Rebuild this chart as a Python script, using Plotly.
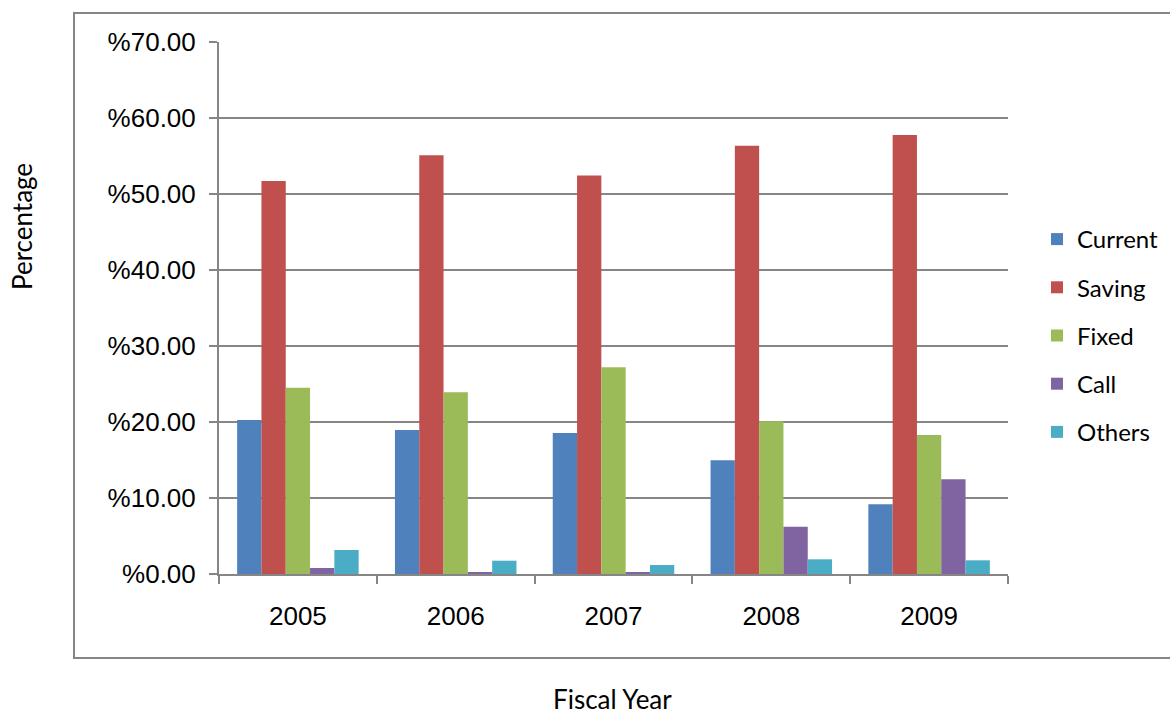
import plotly.graph_objects as go

years = ["2005", "2006", "2007", "2008", "2009"]
current = [20.26, 18.95, 18.55, 14.96, 9.17]
saving = [51.71, 55.10, 52.43, 56.36, 57.76]
fixed = [24.52, 23.90, 27.19, 20.09, 18.29]
call = [0.79, 0.15, 0.26, 6.23, 12.46]
others = [3.16, 1.75, 1.18, 1.93, 1.80]

series = [("Current", current, "#4F81BD"),
          ("Saving", saving, "#C0504D"),
          ("Fixed", fixed, "#9BBB59"),
          ("Call", call, "#8064A2"),
          ("Others", others, "#4BACC6")]

fig = go.Figure()
for i, (name, vals, col) in enumerate(series):
    fig.add_trace(go.Bar(x=years, y=vals, name=name, marker_color=col,
                         marker_line_width=0, legendgroup=name))

W, H = 1170, 715
L, R, T, B = 219, 1008, 42, 574
pw, ph = R - L, B - T

def px(x):
    return (x - L) / pw

def py(y):
    return (B - y) / ph

fig.update_layout(
    width=W, height=H,
    margin=dict(l=L, r=W - R, t=T, b=H - B, pad=0, autoexpand=False),
    paper_bgcolor="white", plot_bgcolor="white",
    barmode="group", bargap=0.23, bargroupgap=0,
    font=dict(family="Liberation Sans, Arial", size=26, color="black"),
    showlegend=True,
    legend=dict(x=px(1037), y=py(217), xanchor="left", yanchor="top",
                font=dict(family="Lato, Open Sans", size=24, color="black"),
                tracegroupgap=14, itemwidth=30, bgcolor="rgba(0,0,0,0)"),
    xaxis=dict(showgrid=False, showline=True, linecolor="#868686", linewidth=2,
               ticks="outside", tickson="boundaries", ticklen=8, tickcolor="#868686",
               tickwidth=2, tickfont=dict(size=26), ticklabelstandoff=18),
    yaxis=dict(range=[0, 70], dtick=10, tickprefix="%", tickformat=".2f",
               showgrid=True, gridcolor="#868686", gridwidth=2,
               showline=True, linecolor="#868686", linewidth=2,
               ticks="outside", ticklen=8, tickcolor="#868686", tickwidth=2,
               tickfont=dict(size=26), zeroline=False, ticklabelstandoff=8),
    shapes=[dict(type="rect", xref="paper", yref="paper",
                 x0=px(74), x1=px(1185), y0=py(658), y1=py(13),
                 line=dict(color="#868686", width=2), fillcolor="rgba(0,0,0,0)",
                 layer="below")],
    annotations=[
        dict(text="Percentage", xref="paper", yref="paper", x=px(22), y=py(227),
             textangle=-90, showarrow=False, xanchor="center", yanchor="middle",
             font=dict(family="Lato, Open Sans", size=26, color="black")),
        dict(text="Fiscal Year", xref="paper", yref="paper", x=px(612), y=py(699),
             showarrow=False, xanchor="center", yanchor="middle",
             font=dict(family="Lato, Open Sans", size=26, color="black")),
    ],
)

fig.write_html("out.html")
